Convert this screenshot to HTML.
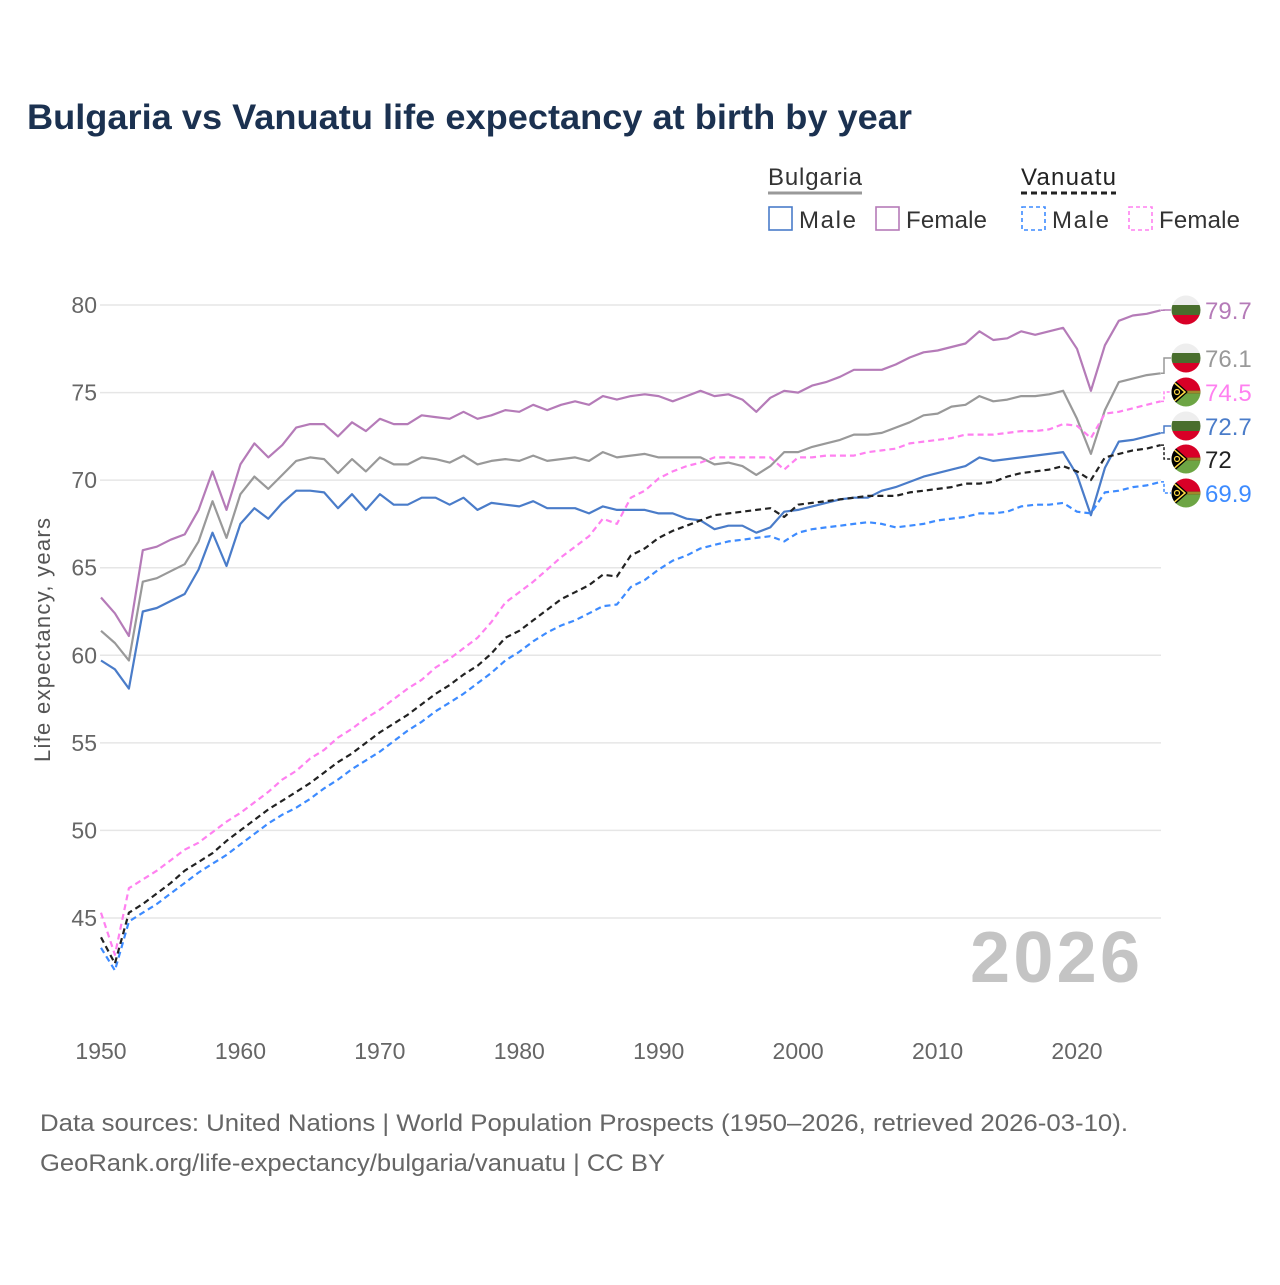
<!DOCTYPE html>
<html><head><meta charset="utf-8">
<style>
html,body{margin:0;padding:0;background:#fff;}
body{width:1280px;height:1280px;overflow:hidden;font-family:"Liberation Sans",sans-serif;}
</style></head>
<body>
<svg id="chart" width="1280" height="1280" xmlns="http://www.w3.org/2000/svg" font-family="'Liberation Sans', sans-serif">
<text x="27" y="129" font-size="35" font-weight="bold" fill="#1b3150" textLength="885" lengthAdjust="spacingAndGlyphs">Bulgaria vs Vanuatu life expectancy at birth by year</text>
<g font-size="24" fill="#333">
 <text x="768" y="185" fill="#333" textLength="94">Bulgaria</text>
 <line x1="768" y1="193" x2="862" y2="193" stroke="#999" stroke-width="3"/>
 <text x="1021" y="185" fill="#222" textLength="95">Vanuatu</text>
 <line x1="1021" y1="193" x2="1116" y2="193" stroke="#222" stroke-width="3" stroke-dasharray="6,4"/>
 <g><rect x="769" y="207" width="23" height="23" fill="none" stroke="#4a7cc9" stroke-width="1.6"/><text x="799" y="228" textLength="57">Male</text></g>
 <g><rect x="876" y="207" width="23" height="23" fill="none" stroke="#b57bb8" stroke-width="1.6"/><text x="906" y="228" textLength="81">Female</text></g>
 <g><rect x="1022" y="207" width="23" height="23" fill="none" stroke="#3d8bff" stroke-width="1.6" stroke-dasharray="4,3"/><text x="1052" y="228" textLength="57">Male</text></g>
 <g><rect x="1129" y="207" width="23" height="23" fill="none" stroke="#ff80f0" stroke-width="1.6" stroke-dasharray="4,3"/><text x="1159" y="228" textLength="81">Female</text></g>
</g>
<g id="grid"></g>
<g id="yticks" font-size="23" fill="#666" text-anchor="end"></g>
<g id="xticks" font-size="23" fill="#666" text-anchor="middle"></g>
<text transform="translate(50,640) rotate(-90)" text-anchor="middle" font-size="22" fill="#555" textLength="244">Life expectancy, years</text>
<text x="1140" y="982" text-anchor="end" font-size="72" font-weight="bold" fill="#c4c4c4" textLength="170">2026</text>
<g id="series"></g>
<g id="endlabels" font-size="24"></g>
<text x="40" y="1131" font-size="24" fill="#666" textLength="1088" lengthAdjust="spacingAndGlyphs">Data sources: United Nations | World Population Prospects (1950–2026, retrieved 2026-03-10).</text>
<text x="40" y="1171" font-size="24" fill="#666" textLength="625" lengthAdjust="spacingAndGlyphs">GeoRank.org/life-expectancy/bulgaria/vanuatu | CC BY</text>
</svg>
<script>
const years = Array.from({length:77},(_,i)=>1950+i);
const yTicks = [45,50,55,60,65,70,75,80];
const xTicks = [1950,1960,1970,1980,1990,2000,2010,2020];
const bgFemale = [63.3,62.4,61.1,66.0,66.2,66.6,66.9,68.3,70.5,68.3,70.9,72.1,71.3,72.0,73.0,73.2,73.2,72.5,73.3,72.8,73.5,73.2,73.2,73.7,73.6,73.5,73.9,73.5,73.7,74.0,73.9,74.3,74.0,74.3,74.5,74.3,74.8,74.6,74.8,74.9,74.8,74.5,74.8,75.1,74.8,74.9,74.6,73.9,74.7,75.1,75.0,75.4,75.6,75.9,76.3,76.3,76.3,76.6,77.0,77.3,77.4,77.6,77.8,78.5,78.0,78.1,78.5,78.3,78.5,78.7,77.5,75.1,77.7,79.1,79.4,79.5,79.7];
const bgTotal = [61.4,60.7,59.7,64.2,64.4,64.8,65.2,66.5,68.8,66.7,69.2,70.2,69.5,70.3,71.1,71.3,71.2,70.4,71.2,70.5,71.3,70.9,70.9,71.3,71.2,71.0,71.4,70.9,71.1,71.2,71.1,71.4,71.1,71.2,71.3,71.1,71.6,71.3,71.4,71.5,71.3,71.3,71.3,71.3,70.9,71.0,70.8,70.3,70.8,71.6,71.6,71.9,72.1,72.3,72.6,72.6,72.7,73.0,73.3,73.7,73.8,74.2,74.3,74.8,74.5,74.6,74.8,74.8,74.9,75.1,73.5,71.5,74.0,75.6,75.8,76.0,76.1];
const bgMale = [59.7,59.2,58.1,62.5,62.7,63.1,63.5,64.9,67.0,65.1,67.5,68.4,67.8,68.7,69.4,69.4,69.3,68.4,69.2,68.3,69.2,68.6,68.6,69.0,69.0,68.6,69.0,68.3,68.7,68.6,68.5,68.8,68.4,68.4,68.4,68.1,68.5,68.3,68.3,68.3,68.1,68.1,67.8,67.7,67.2,67.4,67.4,67.0,67.3,68.2,68.3,68.5,68.7,68.9,69.0,69.0,69.4,69.6,69.9,70.2,70.4,70.6,70.8,71.3,71.1,71.2,71.3,71.4,71.5,71.6,70.3,68.0,70.7,72.2,72.3,72.5,72.7];
const vuTotal = [43.9,42.4,45.3,45.8,46.4,47.0,47.7,48.2,48.7,49.4,50.0,50.6,51.2,51.7,52.2,52.7,53.3,53.9,54.4,55.0,55.6,56.1,56.6,57.2,57.8,58.3,58.9,59.4,60.1,61.0,61.4,62.0,62.6,63.2,63.6,64.0,64.6,64.5,65.7,66.1,66.7,67.1,67.4,67.7,68.0,68.1,68.2,68.3,68.4,67.9,68.6,68.7,68.8,68.9,69.0,69.1,69.1,69.1,69.3,69.4,69.5,69.6,69.8,69.8,69.9,70.2,70.4,70.5,70.6,70.8,70.5,70.0,71.3,71.5,71.7,71.8,72.0];
const vuFemale = [45.3,42.9,46.7,47.2,47.7,48.3,48.9,49.3,49.9,50.5,51.0,51.6,52.2,52.9,53.4,54.1,54.6,55.3,55.8,56.4,56.9,57.5,58.1,58.6,59.3,59.8,60.4,61.0,61.9,63.0,63.6,64.2,64.9,65.6,66.2,66.8,67.8,67.5,69.0,69.4,70.1,70.5,70.8,71.0,71.3,71.3,71.3,71.3,71.3,70.6,71.3,71.3,71.4,71.4,71.4,71.6,71.7,71.8,72.1,72.2,72.3,72.4,72.6,72.6,72.6,72.7,72.8,72.8,72.9,73.2,73.1,72.4,73.8,73.9,74.1,74.3,74.5];
const vuMale = [43.3,42.0,44.8,45.3,45.8,46.4,47.0,47.6,48.1,48.6,49.2,49.8,50.4,50.9,51.3,51.8,52.4,52.9,53.5,54.0,54.5,55.1,55.7,56.2,56.8,57.3,57.8,58.4,59.0,59.7,60.2,60.8,61.3,61.7,62.0,62.4,62.8,62.9,63.9,64.3,64.9,65.4,65.7,66.1,66.3,66.5,66.6,66.7,66.8,66.5,67.0,67.2,67.3,67.4,67.5,67.6,67.5,67.3,67.4,67.5,67.7,67.8,67.9,68.1,68.1,68.2,68.5,68.6,68.6,68.7,68.2,68.1,69.3,69.4,69.6,69.7,69.9];

const NS="http://www.w3.org/2000/svg";
const X = yr => 101 + (yr-1950)*(1077-101)/70;
const Y = v => 305 + (80-v)*(918-305)/35;
function mk(tag, attrs, parent){const e=document.createElementNS(NS,tag);for(const k in attrs)e.setAttribute(k,attrs[k]);parent.appendChild(e);return e;}

const grid=document.getElementById('grid'), yt=document.getElementById('yticks'), xt=document.getElementById('xticks');
yTicks.forEach(v=>{
  const l=mk('line',{x1:100,x2:1161,y1:Y(v),y2:Y(v),stroke:'#e6e6e6','stroke-width':1.5},grid);
  
  
  const t=mk('text',{x:97,y:Y(v)+8},yt);
  
  
  t.textContent=v;
});
xTicks.forEach(yr=>{
  const t=mk('text',{x:X(yr),y:1059},xt);
  
  
  t.textContent=yr;
});

const seriesDefs=[
 {name:'bulgaria-total',data:bgTotal,color:'#999999',dash:null},
 {name:'bulgaria-female',data:bgFemale,color:'#b57bb8',dash:null},
 {name:'bulgaria-male',data:bgMale,color:'#4a7cc9',dash:null},
 {name:'vanuatu-female',data:vuFemale,color:'#ff80f0',dash:'6,4'},
 {name:'vanuatu-male',data:vuMale,color:'#3d8bff',dash:'6,4'},
 {name:'vanuatu-total',data:vuTotal,color:'#222222',dash:'6,4'}
];
const sg=document.getElementById('series');
seriesDefs.forEach(s=>{
  const d=s.data.map((v,i)=>(i?'L':'M')+X(years[i]).toFixed(1)+','+Y(v).toFixed(1)).join('');
  const p=mk('path',{d:d,fill:'none',stroke:s.color,'stroke-width':2.2,'stroke-linejoin':'round'},sg);
  if(s.dash)p.setAttribute('stroke-dasharray',s.dash);
  
  
});

const labels=[
 {name:'bulgaria-female',data:bgFemale,color:'#b57bb8',ly:310,flag:'bg',dash:null},
 {name:'bulgaria-total',data:bgTotal,color:'#999999',ly:358,flag:'bg',dash:null},
 {name:'vanuatu-female',data:vuFemale,color:'#ff80f0',ly:392,flag:'vu',dash:'3,2'},
 {name:'bulgaria-male',data:bgMale,color:'#4a7cc9',ly:426,flag:'bg',dash:null},
 {name:'vanuatu-total',data:vuTotal,color:'#222222',ly:459,flag:'vu',dash:'3,2'},
 {name:'vanuatu-male',data:vuMale,color:'#3d8bff',ly:493,flag:'vu',dash:'3,2'}
];
const eg=document.getElementById('endlabels');
const defs=mk('defs',{},eg);
const cp=mk('clipPath',{id:'circ'},defs);
mk('circle',{cx:0,cy:0,r:14.5},cp);
labels.forEach(l=>{
  const last=l.data[l.data.length-1];
  const y0=Y(last);
  const c=mk('path',{d:`M1161,${y0}H1164V${l.ly}H1171`,fill:'none',stroke:l.color,'stroke-width':1.5},eg);
  if(l.dash)c.setAttribute('stroke-dasharray',l.dash);
  
  
  const g=mk('g',{transform:`translate(1186,${l.ly})`,'clip-path':'url(#circ)'},eg);
  
  
  if(l.flag==='bg'){
    mk('rect',{x:-15,y:-15,width:30,height:10,fill:'#eeeeee'},g);
    mk('rect',{x:-15,y:-5,width:30,height:10,fill:'#496e2d'},g);
    mk('rect',{x:-15,y:5,width:30,height:10,fill:'#d80027'},g);
  } else {
    mk('rect',{x:-15,y:-15,width:30,height:15,fill:'#d80027'},g);
    mk('rect',{x:-15,y:0,width:30,height:15,fill:'#6da544'},g);
    mk('path',{d:'M-15,-1.5H15V1.5H-15Z',fill:'#000'},g);
    mk('path',{d:'M-15,-0.8H15M-15,0.8H15',stroke:'#ffda44','stroke-width':0.8},g);
    mk('path',{d:'M-15,-15L2,0L-15,15Z',fill:'#000'},g);
    mk('path',{d:'M-15,-12L-1,0L-15,12',fill:'none',stroke:'#ffda44','stroke-width':1.5},g);
    mk('circle',{cx:-9,cy:0,r:2.5,fill:'none',stroke:'#ffda44','stroke-width':1.2},g);
  }
  const t=mk('text',{x:1205,y:l.ly+9,fill:l.color},eg);
  
  
  t.textContent=String(last);
});
</script>
</body></html>
